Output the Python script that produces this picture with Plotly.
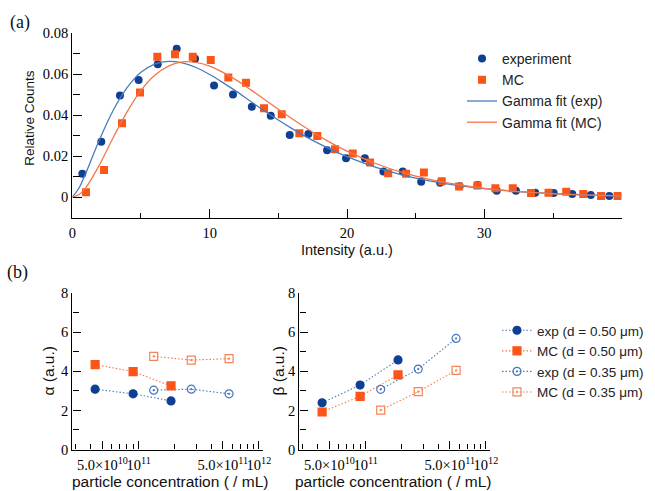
import plotly.graph_objects as go

# ---------------- data ----------------
# (a) histogram of intensities
exp_x = [0.73, 2.11, 3.47, 4.83, 6.22, 7.6, 8.94, 10.32, 11.7, 13.07, 14.45, 15.83, 17.19,
         18.55, 19.93, 21.3, 22.65, 24.06, 25.4, 26.78, 28.2, 29.5, 30.9, 32.3, 33.7,
         35.05, 36.4, 37.75, 39.1]
exp_y = [0.0114, 0.0271, 0.0496, 0.0572, 0.0649, 0.0724, 0.0676, 0.0545, 0.0501, 0.0442,
         0.0397, 0.0304, 0.0309, 0.0229, 0.019, 0.019, 0.0125, 0.0125, 0.0076, 0.0071,
         0.0053, 0.006, 0.0032, 0.0032, 0.0022, 0.002, 0.0016, 0.0011, 0.0006]
mc_x = [1.0, 2.31, 3.62, 4.93, 6.19, 7.48, 8.77, 10.08, 11.36, 12.65, 13.96, 15.25, 16.53,
        17.84, 19.13, 20.42, 21.68, 23.0, 24.3, 25.6, 26.9, 28.16, 29.5, 30.8, 32.07,
        33.4, 34.67, 35.96, 37.2, 38.5, 39.7]
mc_y = [0.0024, 0.0133, 0.0361, 0.0511, 0.0686, 0.0698, 0.0686, 0.067, 0.0584, 0.0559,
        0.0434, 0.0405, 0.0312, 0.0299, 0.0234, 0.0213, 0.0169, 0.0117, 0.0114, 0.012,
        0.0078, 0.0052, 0.0057, 0.0044, 0.0044, 0.002, 0.0022, 0.0027, 0.0016, 0.0006,
        0.0006]
fit_x = [0, 0.5, 1, 2, 3, 4, 5, 6, 7, 8, 9, 10, 11, 12, 13, 14, 15, 16, 17, 18, 19, 20,
         22, 24, 26, 28, 30, 32, 34, 36, 38, 40]
fit_exp_y = [0, 0.0046, 0.0120, 0.0284, 0.0427, 0.0536, 0.0610, 0.0650, 0.0663, 0.0656,
             0.0633, 0.0599, 0.0558, 0.0514, 0.0467, 0.0421, 0.0377, 0.0335, 0.0296,
             0.0260, 0.0227, 0.0198, 0.0148, 0.0109, 0.0080, 0.0058, 0.0042, 0.0030,
             0.0021, 0.0015, 0.00105, 0.0007]
fit_mc_y = [0, 0.0013, 0.0048, 0.0161, 0.0294, 0.0418, 0.0521, 0.0595, 0.0640, 0.0660,
            0.0658, 0.0640, 0.0608, 0.0569, 0.0524, 0.0477, 0.0429, 0.0383, 0.0339,
            0.0297, 0.0259, 0.0225, 0.0167, 0.0121, 0.0087, 0.0062, 0.0043, 0.0030,
            0.0021, 0.0014, 0.00096, 0.00065]

# (b) fit parameters vs particle concentration
conc_050 = [4.35e10, 9.0e10, 1.86e11]
conc_035 = [1.335e11, 2.74e11, 5.65e11]
alpha_exp_050 = [3.09, 2.85, 2.49]
alpha_mc_050 = [4.35, 3.99, 3.26]
alpha_exp_035 = [3.04, 3.09, 2.85]
alpha_mc_035 = [4.77, 4.58, 4.65]
beta_exp_050 = [2.39, 3.30, 4.59]
beta_mc_050 = [1.92, 2.72, 3.82]
beta_exp_035 = [3.08, 4.12, 5.69]
beta_mc_035 = [2.02, 2.96, 4.05]

log_ticks = [5e10, 1e11, 5e11, 1e12]
log_ticktext = ["5.0×10<sup>10</sup>", "10<sup>11</sup>", "5.0×10<sup>11</sup>", "10<sup>12</sup>"]
log_minor = [3e10, 4e10, 6e10, 7e10, 8e10, 9e10, 2e11, 3e11, 4e11, 6e11, 7e11, 8e11, 9e11]

# ---------------- styling ----------------
W, H = 655, 491
def PX(x):
    return x / W
def PY(y):
    return 1 - y / H

BLUE_M = "#0f3f91"
ORANGE_M = "#fb5517"
BLUE_L = "#4a7cbd"
ORANGE_L = "#f4774a"
BLUE_O = "#4a75bf"
ORANGE_O = "#f3845a"
SANS = "Liberation Sans, Arial, sans-serif"
SERIF = "Liberation Serif, Times New Roman, serif"

fig = go.Figure()

# ---- panel (a)
fig.add_trace(go.Scatter(x=exp_x, y=exp_y, mode="markers", name="experiment",
                         marker=dict(symbol="circle", size=8, color=BLUE_M),
                         xaxis="x", yaxis="y", legend="legend"))
fig.add_trace(go.Scatter(x=mc_x, y=mc_y, mode="markers", name="MC",
                         marker=dict(symbol="square", size=8, color=ORANGE_M),
                         xaxis="x", yaxis="y", legend="legend"))
fig.add_trace(go.Scatter(x=fit_x, y=fit_exp_y, mode="lines", name="Gamma fit (exp)",
                         line=dict(color=BLUE_L, width=1.3, shape="spline"),
                         xaxis="x", yaxis="y", legend="legend"))
fig.add_trace(go.Scatter(x=fit_x, y=fit_mc_y, mode="lines", name="Gamma fit (MC)",
                         line=dict(color=ORANGE_L, width=1.3, shape="spline"),
                         xaxis="x", yaxis="y", legend="legend"))

# ---- panel (b)
series_b = [
    ("exp (d = 0.50 μm)", conc_050, alpha_exp_050, beta_exp_050, "circle", BLUE_M, BLUE_L),
    ("MC (d = 0.50 μm)", conc_050, alpha_mc_050, beta_mc_050, "square", ORANGE_M, ORANGE_L),
    ("exp (d = 0.35 μm)", conc_035, alpha_exp_035, beta_exp_035, "circle-open-dot", BLUE_O, BLUE_L),
    ("MC (d = 0.35 μm)", conc_035, alpha_mc_035, beta_mc_035, "square-open-dot", ORANGE_O, ORANGE_L),
]
for name, cx, a, b, sym, mcol, lcol in series_b:
    mk = dict(symbol=sym, size=8, color=mcol, line=dict(width=1.2, color=mcol))
    fig.add_trace(go.Scatter(x=cx, y=a, mode="lines+markers", name=name, marker=mk,
                             line=dict(color=lcol, width=1.1, dash="1.5px,2px"),
                             xaxis="x2", yaxis="y2", legend="legend2"))
    fig.add_trace(go.Scatter(x=cx, y=b, mode="lines+markers", name=name, marker=mk,
                             line=dict(color=lcol, width=1.1, dash="1.5px,2px"),
                             xaxis="x3", yaxis="y3", showlegend=False))

axis_common = dict(showline=True, linecolor="black", linewidth=1.4, showgrid=False,
                   zeroline=False, ticks="inside", ticklen=9, tickwidth=1.3,
                   tickcolor="black", automargin=False, tickangle=0,
                   tickfont=dict(family=SERIF, size=14.5, color="black"))

log_x = dict(axis_common, type="log", range=[10.449, 12.034], tickmode="array",
             tickvals=log_ticks, ticktext=log_ticktext, ticklen=8, ticklabelstandoff=2,
             minor=dict(tickmode="array", tickvals=log_minor, ticks="inside",
                        ticklen=5, tickwidth=1.2, tickcolor="black"))
b_y = dict(axis_common, range=[0, 8], tickmode="array", tickvals=[0, 2, 4, 6, 8],
           ticklen=8,
           minor=dict(tickmode="array", tickvals=[1, 3, 5, 7], ticks="inside",
                      ticklen=6, tickwidth=1.2, tickcolor="black"))

fig.update_layout(
    template="none",
    width=W, height=H,
    margin=dict(l=0, r=0, t=0, b=0, autoexpand=False),
    paper_bgcolor="white", plot_bgcolor="white",
    xaxis=dict(axis_common, domain=[PX(72.3), PX(621.7)], range=[0, 40], anchor="y",
               tickmode="array", tickvals=[0, 10, 20, 30], ticklabelstandoff=2,
               minor=dict(tickmode="array", tickvals=[5, 15, 25, 35], ticks="inside",
                          ticklen=5, tickwidth=1.2, tickcolor="black")),
    yaxis=dict(axis_common, domain=[PY(217.7), PY(33.3)], range=[-0.01, 0.08], anchor="x",
               tickmode="array", tickvals=[0, 0.02, 0.04, 0.06, 0.08],
               ticktext=["0", "0.02", "0.04", "0.06", "0.08"],
               minor=dict(tickmode="array", tickvals=[0.01, 0.03, 0.05, 0.07],
                          ticks="inside", ticklen=7, tickwidth=1.2, tickcolor="black")),
    xaxis2=dict(log_x, domain=[PX(72.3), PX(263)], anchor="y2"),
    yaxis2=dict(b_y, domain=[PY(449.5), PY(293.3)], anchor="x2"),
    xaxis3=dict(log_x, domain=[PX(299.3), PX(490)], anchor="y3"),
    yaxis3=dict(b_y, domain=[PY(449.5), PY(293.3)], anchor="x3"),
    legend=dict(x=PX(462), y=PY(43), xanchor="left", yanchor="top",
                bgcolor="rgba(0,0,0,0)", font=dict(family=SANS, size=14, color="#222"),
                tracegroupgap=0),
    legend2=dict(x=PX(497), y=PY(315), xanchor="left", yanchor="top",
                 bgcolor="rgba(0,0,0,0)", font=dict(family=SANS, size=13.5, color="#222"),
                 tracegroupgap=0),
    showlegend=True,
)

ann = [
    dict(text="(a)", x=PX(20), y=PY(22), font=dict(family=SERIF, size=18)),
    dict(text="(b)", x=PX(17), y=PY(272), font=dict(family=SERIF, size=18)),
    dict(text="Relative Counts", x=PX(29.3), y=PY(117.5), textangle=-90,
         font=dict(family=SANS, size=13.5)),
    dict(text="Intensity (a.u.)", x=PX(347), y=PY(250), font=dict(family=SANS, size=14.5)),
    dict(text="α (a.u.)", x=PX(47.5), y=PY(371), textangle=-90,
         font=dict(family=SANS, size=15.5)),
    dict(text="β (a.u.)", x=PX(277.5), y=PY(371), textangle=-90,
         font=dict(family=SANS, size=15.5)),
    dict(text="particle concentration ( / mL)", x=PX(170), y=PY(481),
         font=dict(family=SANS, size=15.5)),
    dict(text="particle concentration ( / mL)", x=PX(393), y=PY(481),
         font=dict(family=SANS, size=15.5)),
]
for a in ann:
    a.update(xref="paper", yref="paper", showarrow=False, xanchor="center", yanchor="middle")
    a["font"]["color"] = "#111"
fig.update_layout(annotations=ann)

fig.write_html(
    "out.html",
    config={"displayModeBar": False},
    post_script="document.documentElement.style.margin='0';"
                "document.body.style.margin='0';document.body.style.padding='0';"
                "document.body.style.overflow='hidden';",
)
